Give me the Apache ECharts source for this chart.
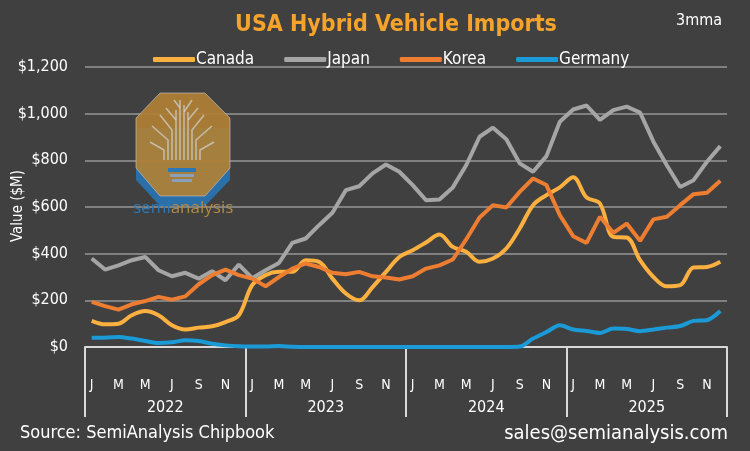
<!DOCTYPE html>
<html><head><meta charset="utf-8">
<script src="https://cdn.jsdelivr.net/npm/echarts@6/dist/echarts.min.js"></script>
<style>html,body{margin:0;padding:0;background:#404040}#c{width:750px;height:451px}</style>
</head><body><div id="c"></div>
<script>
const years = ['2022','2023','2024','2025'];
const monthLetters = ['J','F','M','A','M','J','J','A','S','O','N','D'];
const yTicks = [0,200,400,600,800,1000,1200];
const canada = [112,97,100,136,154,136,93,75,83,89,107,136,
  265,308,322,322,372,365,293,229,200,257,322,386,
  415,448,482,429,408,365,379,422,508,608,651,684,
  727,641,615,472,469,372,300,260,265,341,343,365];
const japan = [379,332,350,372,386,329,303,318,293,325,286,353,
  295,329,360,446,465,522,575,672,689,744,782,751,
  694,629,632,684,779,901,940,890,787,751,818,965,
  1018,1035,973,1015,1030,1005,880,779,686,715,794,861];
const korea = [193,175,160,183,197,215,203,217,269,308,332,308,
  293,260,300,336,358,343,318,312,322,303,298,289,
  303,336,350,375,461,555,608,598,665,722,694,565,
  475,446,558,489,529,455,547,558,608,655,661,712];
const germany = [40,40,43,36,26,17,20,29,26,14,7,3,
  2,2,4,1,0,0,0,0,0,0,0,0,
  0,0,0,0,0,0,0,0,2,36,64,93,
  75,69,60,79,77,68,75,83,90,112,115,154];

const cats = [];
years.forEach(y => monthLetters.forEach((m, i) => cats.push(y + '-' + (i + 1))));

const font = "'Liberation Sans Narrow','DejaVu Sans Condensed','Roboto','Liberation Sans',sans-serif";
const chart = echarts.init(document.getElementById('c'));
const mk = (name, data, color, smooth) => ({
  name, type: 'line', data, smooth, symbol: 'none',
  lineStyle: { color, width: 4 }, itemStyle: { color },
  xAxisIndex: 0, yAxisIndex: 0
});
// decorative logo tree lines
const treeColor = 'rgba(210,210,210,0.75)';
const branches = [
  [[176,160],[176,110]],[[180,160],[180,100]],[[184,160],[184,105]],[[188,160],[188,112]],
  [[172,160],[172,130],[160,115]],[[192,160],[192,130],[204,115]],
  [[168,160],[168,140],[152,126]],[[196,160],[196,140],[212,126]],
  [[164,160],[164,150],[150,142]],[[200,160],[200,150],[214,142]],
  [[176,120],[166,108]],[[188,120],[198,108]],[[180,108],[174,100]],[[184,112],[192,100]]
];
const treeGraphics = branches.map(p => ({ type: 'polyline', z: 2, shape: { points: p },
  style: { stroke: treeColor, lineWidth: 1.5, fill: null } }));

chart.setOption({
  backgroundColor: '#404040',
  animation: false,
  textStyle: { fontFamily: font },
  title: {
    text: 'USA Hybrid Vehicle Imports', left: 391, top: 9, textAlign: 'center',
    textStyle: { color: '#F5A32B', fontSize: 23, fontWeight: 'bold', fontFamily: font }
  },
  legend: {
    top: 46, left: 148, itemWidth: 42, itemHeight: 5, itemGap: 30,
    icon: 'roundRect',
    textStyle: { color: '#ffffff', fontSize: 17, fontFamily: font, padding: [0, 0, 0, -4] },
    data: ['Canada', 'Japan', 'Korea', 'Germany']
  },
  grid: { left: 85, right: 23, top: 67, bottom: 104, containLabel: false, outerBoundsMode: 'none' },
  xAxis: [{
    type: 'category', data: cats, boundaryGap: true,
    axisLine: { show: true, lineStyle: { color: '#d9d9d9', width: 2 } },
    axisTick: { show: false },
    axisLabel: {
      interval: 1, color: '#ffffff', fontSize: 14, margin: 31, fontFamily: font,
      formatter: v => monthLetters[parseInt(v.split('-')[1], 10) - 1]
    },
    splitLine: { show: false }
  }, {
    type: 'category', data: years, boundaryGap: true, position: 'bottom',
    axisLine: { show: false },
    axisTick: { show: true, length: 70, inside: false, lineStyle: { color: '#d9d9d9', width: 2 } },
    axisLabel: { color: '#ffffff', fontSize: 16, margin: 53, fontFamily: font },
    splitLine: { show: false }
  }],
  yAxis: {
    type: 'value', min: yTicks[0], max: yTicks[yTicks.length - 1], interval: 200,
    axisLine: { show: false }, axisTick: { show: false },
    axisLabel: {
      color: '#ffffff', fontSize: 16, margin: 17, fontFamily: font,
      formatter: v => '$' + v.toLocaleString('en-US')
    },
    splitLine: { lineStyle: { color: '#808080', width: 2 } }
  },
  graphic: [
    { type: 'polygon', z: 0, shape: { points: [[136,128],[136,180],[160,206],[205,206],[230,180],[230,128]] },
      style: { fill: '#2a6fa8' } },
    { type: 'polygon', z: 1, shape: { points: [[160,93],[205,93],[230,118],[230,168],[205,196],[160,196],[136,168],[136,118]] },
      style: { fill: 'rgba(176,128,52,0.92)', stroke: 'rgba(200,200,200,0.6)', lineWidth: 1 } },
    ...treeGraphics,
    { type: 'rect', z: 2, shape: { x: 168, y: 168, width: 28, height: 4 }, style: { fill: '#2a78b8' } },
    { type: 'rect', z: 2, shape: { x: 170, y: 174, width: 24, height: 3 }, style: { fill: '#8aa0b8' } },
    { type: 'rect', z: 2, shape: { x: 172, y: 179, width: 20, height: 3 }, style: { fill: '#8aa0b8' } },
    { type: 'text', z: 2, left: 133, top: 200,
      style: { text: '{a|semi}{b|analysis}', rich: {
        a: { fill: '#2a78b8', fontSize: 17, fontFamily: "'Open Sans',sans-serif" },
        b: { fill: '#b08a45', fontSize: 17, fontFamily: "'Open Sans',sans-serif" } } } },
    { type: 'text', x: 18, y: 206, rotation: Math.PI / 2,
      style: { text: 'Value ($M)', fill: '#ffffff', fontSize: 15, fontFamily: font, align: 'center', verticalAlign: 'middle' } },
    { type: 'text', right: 28, top: 13, style: { text: '3mma', fill: '#ffffff', fontSize: 16, fontFamily: font } },
    { type: 'text', left: 20, top: 424, style: { text: 'Source: SemiAnalysis Chipbook', fill: '#ffffff', fontSize: 18, fontFamily: font } },
    { type: 'text', right: 22, top: 424, style: { text: 'sales@semianalysis.com', fill: '#ffffff', fontSize: 20, fontFamily: font } }
  ],
  series: [
    mk('Canada', canada, '#FBB040', 0.35),
    mk('Japan', japan, '#A5A5A5', false),
    mk('Korea', korea, '#ED7D31', false),
    mk('Germany', germany, '#1A9AD6', 0.3)
  ]
});
</script></body></html>
